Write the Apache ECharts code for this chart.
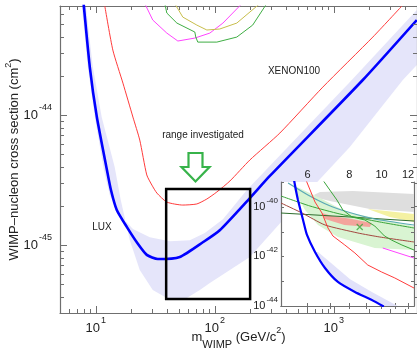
<!DOCTYPE html>
<html>
<head>
<meta charset="utf-8">
<script src="https://cdn.jsdelivr.net/npm/echarts@6/dist/echarts.min.js"></script>
<style>html,body{margin:0;padding:0;background:#fff}#c{width:417px;height:349px}</style>
</head>
<body>
<div id="c"></div>
<script>
// ---------- main plot data (mass in GeV/c^2, cross section in cm^2) ----------
const luxMass  = [7.76, 7.93, 8.90, 10.2, 12.4, 13.4, 15.0, 18.2, 22.1, 26.8, 33.2, 50.8, 79.3, 110, 197, 290, 1752, 4983];
const luxSigma = [8.5e-44, 6.9e-44, 2.34e-44, 9.65e-45, 3.78e-45, 2.65e-45, 1.86e-45, 1.38e-45, 1.05e-45, 8.4e-46, 7.8e-46, 8.1e-46, 1.05e-45, 1.30e-45, 2.30e-45, 3.40e-45, 1.86e-44, 5.38e-44];

const bandUpperMass  = [7.63, 8.57, 9.81, 11.7, 13.1, 15.9, 20.5, 28.4, 41.9, 61.6, 82.4, 117, 186, 1417, 4983];
const bandUpperSigma = [6.89e-44, 2.34e-44, 9.65e-45, 3.78e-45, 2.43e-45, 1.70e-45, 1.33e-45, 1.15e-45, 1.07e-45, 1.09e-45, 1.24e-45, 1.58e-45, 2.65e-45, 1.86e-44, 6.42e-44];
const bandLowerMass  = [8.24, 9.44, 11.2, 14.4, 16.2, 19.3, 23.4, 30.1, 39.5, 58.2, 74.8, 90.8, 197, 628, 1363, 3800, 4983];
const bandLowerSigma = [6.89e-44, 2.34e-44, 9.65e-45, 3.98e-45, 2.22e-45, 1.09e-45, 6.42e-46, 4.51e-46, 3.91e-46, 3.91e-46, 4.51e-46, 5.10e-46, 8.09e-46, 2.65e-45, 5.67e-45, 1.86e-44, 2.43e-44];

const xenonMass  = [11.9, 13.9, 16.9, 20.5, 23.4, 26.8, 29.6, 32.6, 39.5, 53.8, 70.6, 85.7, 104, 134, 197, 352, 808, 2127, 3727];
const xenonSigma = [6.89e-44, 3.16e-44, 1.76e-44, 9.65e-45, 6.42e-45, 3.46e-45, 2.89e-45, 2.51e-45, 2.14e-45, 2.03e-45, 2.07e-45, 2.26e-45, 2.56e-45, 3.11e-45, 4.51e-45, 7.27e-45, 1.64e-44, 3.98e-44, 6.89e-44];

const magMass  = [25.8, 30.1, 39.5, 48.9, 67.9, 90.8, 117, 169];
const magSigma = [7.2e-44, 5.38e-44, 4.27e-44, 3.71e-44, 3.91e-44, 4.27e-44, 5.10e-44, 7.2e-44];
const oliveMass  = [46.1, 53.8, 70.6, 85.7, 110, 153, 239];
const oliveSigma = [7.2e-44, 5.67e-44, 4.92e-44, 4.51e-44, 4.59e-44, 5.1e-44, 7.2e-44];
const greenMass  = [38, 39.5, 48, 67.9, 69.2, 71.9, 104, 153, 208, 273];
const greenSigma = [7.2e-44, 6.09e-44, 5.1e-44, 4.35e-44, 3.98e-44, 3.64e-44, 3.64e-44, 3.98e-44, 4.92e-44, 7.2e-44];

const rangeMass  = [39, 198];
const rangeSigma = [3.85e-46, 2.7e-45];

const mainXTicks = [10, 100, 1000];
const mainYTicks = [1e-45, 1e-44];

// ---------- inset data ----------
const inLuxMass  = [5.47, 5.54, 5.62, 5.82, 5.98, 6.32, 6.77, 7.40, 8.32, 9.35, 10.15];
const inLuxSigma = [1.2e-39, 4.75e-40, 1.88e-40, 2.94e-41, 7.3e-42, 1.50e-42, 3.40e-43, 9.3e-44, 3.67e-44, 1.75e-44, 9.5e-45];
const inBandMass  = [6.32, 6.77, 7.40, 8.32, 9.35, 10.15, 11.2, 9.35, 8.03, 7.0, 6.45];
const inBandSigma = [1.50e-42, 3.40e-43, 9.3e-44, 3.67e-44, 1.75e-44, 9.5e-45, 9.8e-45, 3.67e-44, 1.23e-43, 5.94e-43, 1.50e-42];
const inRedMass  = [5.94, 6.32, 6.63, 6.91, 7.15, 7.76, 8.32, 9.09, 10.0, 10.95, 12.5];
const inRedSigma = [1.2e-39, 1.56e-40, 5.62e-41, 1.40e-41, 6.65e-42, 2.88e-42, 1.37e-42, 4.5e-43, 2.35e-43, 1.35e-43, 5.3e-44];
const inGreenAMass  = [6.67, 7.0, 7.35, 7.66, 8.15, 8.91, 9.54, 10.2, 10.7, 11.5, 12.5];
const inGreenASigma = [1.2e-39, 4.75e-40, 1.88e-40, 7.43e-41, 3.88e-41, 2.94e-41, 1.68e-41, 6.65e-42, 4.58e-42, 2.88e-42, 1.81e-42];
const inTealMass  = [5.25, 6.02, 6.91, 7.93, 9.54, 12.5];
const inTealSigma = [9.1e-40, 2.99e-40, 1.18e-40, 6.17e-41, 3.22e-41, 1.85e-41];
const inGreenBMass  = [5.0, 6.1, 7.5, 9.88, 12.5];
const inGreenBSigma = [2.72e-40, 1.08e-40, 5.13e-41, 2.44e-41, 1.40e-41];
const inDarkGreenMass  = [5.0, 8.04, 12.5];
const inDarkGreenSigma = [5.62e-41, 3.88e-41, 2.67e-41];
const inBrownMass  = [5.0, 5.78, 6.77, 8.49, 9.88, 12.5];
const inBrownSigma = [1.42e-40, 5.62e-41, 1.85e-41, 8.8e-42, 6.05e-42, 3.81e-42];
const inMagMass  = [10.08, 12.5];
const inMagSigma = [2.18e-42, 8.6e-43];
const inGreenRegMass  = [5.43, 6.54, 7.85, 12.5, 12.5, 9.54, 7.40, 6.45, 5.90, 5.51];
const inGreenRegSigma = [7.57e-40, 2.26e-40, 6.17e-41, 1.68e-41, 1.81e-42, 2.18e-42, 6.05e-42, 1.85e-41, 7.43e-41, 3.95e-40];
const inGreyMass  = [6.27, 6.54, 8.2, 12.5, 12.5, 9.22, 7.0, 6.45];
const inGreySigma = [2.99e-40, 3.95e-40, 4.34e-40, 3.28e-40, 6.17e-41, 8.15e-41, 1.71e-40, 2.26e-40];
const inYellowMass  = [9.09, 12.5, 12.5, 10.58];
const inYellowSigma = [8.15e-41, 5.13e-41, 2.44e-41, 3.88e-41];
const inPinkMass  = [6.63, 7.1, 8.15, 9.35, 9.22, 7.74, 6.77];
const inPinkSigma = [5.62e-41, 4.26e-41, 3.22e-41, 2.22e-41, 1.53e-41, 1.85e-41, 3.22e-41];
const inCrossMass  = [8.6];
const inCrossSigma = [1.53e-41];

const inXTicks = [6, 7, 8, 9, 10, 11, 12];
const inXLabels = [6, 8, 10, 12];
const inYTicks = [1e-44, 1e-43, 1e-42, 1e-41, 1e-40, 1e-39];
const inYLabels = [1e-44, 1e-42, 1e-40];

// ---------- helpers ----------
const FONT = "'Liberation Sans', Arial, sans-serif";
const AX = '#6f6f6f';
function minorTicks(min, max, n0, n1) {
  const out = [];
  for (let n = n0; n <= n1; n++) for (let k = 2; k <= 9; k++) {
    const v = k * Math.pow(10, n);
    if (v > min * 1.001 && v < max * 0.999) out.push(v);
  }
  return out;
}
const mainXMinor = minorTicks(5, 5000, 0, 3);
const mainYMinor = minorTicks(3e-46, 6.9e-44, -46, -44);
function powLabel(v) { return '{b|10}{s|' + Math.round(Math.log10(v)) + '}'; }
const mainRich = {
  b: { fontSize: 13, fontFamily: FONT, color: '#222', padding: [6, 0, 6, 0] },
  s: { fontSize: 9, fontFamily: FONT, color: '#222', verticalAlign: 'top', padding: [0, 0, 0, 1] }
};
// zrender-style rich (for custom series text elements)
const mainRichZ = {
  b: { fontSize: 13, fontFamily: FONT, fill: '#222', padding: [6, 0, 6, 0] },
  s: { fontSize: 9, fontFamily: FONT, fill: '#222', verticalAlign: 'top', padding: [0, 0, 0, 1] }
};
const inRichZ = {
  b: { fontSize: 11, fontFamily: FONT, fill: '#222', padding: [5, 0, 5, 0] },
  s: { fontSize: 8, fontFamily: FONT, fill: '#222', verticalAlign: 'top', padding: [0, 0, 0, 1] }
};
const pts = (xs, ys) => xs.map((x, i) => [x, ys[i]]);

function line(xs, ys, color, width, inset, smooth) {
  return { type: 'line', xAxisIndex: inset ? 4 : 0, yAxisIndex: inset ? 4 : 0,
    data: pts(xs, ys), showSymbol: false, symbol: 'none', smooth: smooth || false,
    lineStyle: { color, width }, itemStyle: { color }, clip: true, silent: true,
    animation: false, z: inset ? 14 : 3 };
}
function poly(xs, ys, fill, inset, z) {
  return { type: 'custom', xAxisIndex: inset ? 4 : 0, yAxisIndex: inset ? 4 : 0,
    clip: true, silent: true, animation: false, z: z,
    data: [[xs[0], ys[0]]],
    renderItem: (p, api) => ({ type: 'polygon',
      shape: { points: xs.map((x, i) => api.coord([x, ys[i]])) },
      style: { fill: fill, stroke: null } }) };
}
// y-axis ticks and labels drawn through the y scale (log axis labels of tiny values need this)
function yTicks(inset, xRef, majors, minors, labels, majLen, minLen, margin, rich, z) {
  return { type: 'custom', xAxisIndex: inset ? 4 : 0, yAxisIndex: inset ? 4 : 0,
    clip: false, silent: true, animation: false, z: z,
    data: [[xRef, majors[0]]],
    renderItem: (p, api) => {
      const cs = p.coordSys;
      const L = cs.x, R = cs.x + cs.width;
      const ch = [];
      const tick = (v, len) => {
        const y = Math.round(api.coord([xRef, v])[1]) + 0.5;
        ch.push({ type: 'line', shape: { x1: L, y1: y, x2: L + len, y2: y }, style: { stroke: AX, lineWidth: 1 } });
        ch.push({ type: 'line', shape: { x1: R, y1: y, x2: R - len, y2: y }, style: { stroke: AX, lineWidth: 1 } });
      };
      majors.forEach(v => tick(v, majLen));
      minors.forEach(v => tick(v, minLen));
      labels.forEach(v => {
        const y = api.coord([xRef, v])[1];
        ch.push({ type: 'text', x: L - margin, y: y,
          style: { text: powLabel(v), rich: rich, align: 'right', verticalAlign: 'middle' } });
      });
      return { type: 'group', children: ch };
    } };
}
function xAx(grid, pos, min, max, ticks, len, showLine, extra) {
  return Object.assign({ type: 'log', logBase: 10, gridIndex: grid, position: pos, min, max,
    axisLine: { show: showLine, lineStyle: { color: AX, width: 1.2 } },
    axisTick: ticks ? { show: true, inside: true, length: len, customValues: ticks, lineStyle: { color: AX, width: 1 } } : { show: false },
    axisLabel: { show: false }, splitLine: { show: false }, minorTick: { show: false },
    z: grid ? 12 : 2 }, extra || {});
}

const option = {
  animation: false,
  backgroundColor: '#fff',
  grid: [
    { left: 60, right: 0, top: 6, bottom: 36, show: false, containLabel: false, outerBoundsMode: 'none' },
    { left: 281, top: 182, width: 133, height: 124, show: true, backgroundColor: '#fff', borderWidth: 0, z: 10, containLabel: false, outerBoundsMode: 'none' }
  ],
  xAxis: [
    xAx(0, 'bottom', 5, 5000, mainXTicks, 7, true, {
      axisLabel: { show: true, customValues: mainXTicks, formatter: powLabel, rich: mainRich, margin: 3 },
      name: '{a|m}{sub|WIMP}{a| (GeV/c}{p|2}{a|)}', nameLocation: 'middle', nameGap: 13, nameMoveOverlap: false,
      nameTextStyle: { rich: {
        a: { fontSize: 13, fontFamily: FONT, color: '#222', padding: [5, 0, 6, 0] },
        sub: { fontSize: 11, fontFamily: FONT, color: '#222', verticalAlign: 'bottom' },
        p: { fontSize: 9, fontFamily: FONT, color: '#222', verticalAlign: 'top' } } }
    }),
    xAx(0, 'bottom', 5, 5000, mainXMinor, 4, false),
    xAx(0, 'top', 5, 5000, mainXTicks, 7, true),
    xAx(0, 'top', 5, 5000, mainXMinor, 4, false),
    xAx(1, 'bottom', 5, 12.5, inXTicks, 3, true),
    xAx(1, 'top', 5, 12.5, inXTicks, 3, true, {
      axisLabel: { show: true, customValues: inXLabels, formatter: v => String(Math.round(v)),
        fontSize: 11, fontFamily: FONT, color: '#222', margin: 2 } })
  ],
  yAxis: [
    xAx(0, 'left', 3e-46, 6.9e-44, null, 0, true, {
      name: '{a|WIMP\u2013nucleon cross section (cm}{p|2}{a|)}', nameLocation: 'middle', nameGap: 35, nameRotate: 90,
      nameMoveOverlap: false,
      nameTextStyle: { rich: {
        a: { fontSize: 13, fontFamily: FONT, color: '#222', padding: [4, 0, 4, 0] },
        p: { fontSize: 9, fontFamily: FONT, color: '#222', verticalAlign: 'top' } } }
    }),
    xAx(0, 'right', 3e-46, 6.9e-44, null, 0, true),
    xAx(1, 'left', 1e-44, 1e-39, null, 0, true),
    xAx(1, 'right', 1e-44, 1e-39, null, 0, true),
    xAx(1, 'left', 1e-44, 1e-39, null, 0, false)
  ],
  series: [
    // main plot
    poly(bandUpperMass.concat(bandLowerMass.slice().reverse()),
         bandUpperSigma.concat(bandLowerSigma.slice().reverse()), '#e5e5fa', false, 1),
    line(magMass, magSigma, '#ff44ff', 1, false),
    line(oliveMass, oliveSigma, '#c8be4c', 1, false),
    line(greenMass, greenSigma, '#3fae44', 1, false),
    line(xenonMass, xenonSigma, '#ff3b3b', 1, false, 0.2),
    line(luxMass, luxSigma, '#0000ff', 2.6, false, 0.2),
    { type: 'custom', xAxisIndex: 0, yAxisIndex: 0, silent: true, animation: false, z: 5,
      data: [[rangeMass[0], rangeSigma[0]]],
      renderItem: (p, api) => {
        const a = api.coord([rangeMass[0], rangeSigma[1]]);
        const b = api.coord([rangeMass[1], rangeSigma[0]]);
        return { type: 'rect', shape: { x: a[0], y: a[1], width: b[0] - a[0], height: b[1] - a[1] },
          style: { fill: null, stroke: '#000', lineWidth: 2.5 } };
      } },
    yTicks(false, 10, mainYTicks, mainYMinor, mainYTicks, 7, 4, 8, mainRichZ, 6),
    // inset
    poly(inGreyMass, inGreySigma, '#dedede', true, 13),
    poly(inYellowMass, inYellowSigma, '#f4f1a2', true, 13),
    poly(inGreenRegMass, inGreenRegSigma, '#d9f4d2', true, 13),
    poly(inPinkMass, inPinkSigma, '#f3a49c', true, 13),
    poly(inBandMass, inBandSigma, '#e2e2fa', true, 13),
    line(inDarkGreenMass, inDarkGreenSigma, '#2e6e2e', 1, true),
    line(inBrownMass, inBrownSigma, '#a4473f', 1, true, 0.2),
    line(inGreenBMass, inGreenBSigma, '#3aa53a', 1, true, 0.2),
    line(inTealMass, inTealSigma, '#5aa9b5', 1.2, true, 0.2),
    line(inGreenAMass, inGreenASigma, '#3aa53a', 1, true),
    line(inMagMass, inMagSigma, '#ff44ff', 1, true),
    line(inRedMass, inRedSigma, '#ff3b3b', 1, true),
    line(inLuxMass, inLuxSigma, '#0000ff', 2.2, true, 0.2),
    { type: 'scatter', xAxisIndex: 4, yAxisIndex: 4, silent: true, animation: false, z: 15,
      data: pts(inCrossMass, inCrossSigma), symbol: 'path://M0,0L10,10M10,0L0,10', symbolSize: 6,
      itemStyle: { color: 'transparent', borderColor: '#3aa53a', borderWidth: 1.2 } },
    yTicks(true, 6, inYTicks, [], inYLabels, 3, 0, 3, inRichZ, 16)
  ],
  graphic: [
    { type: 'text', x: 294, y: 71, z: 30, style: { text: 'XENON100', font: '10px ' + FONT, fill: '#222', align: 'center', verticalAlign: 'middle' } },
    { type: 'text', x: 203, y: 135, z: 30, style: { text: 'range investigated', font: '10px ' + FONT, fill: '#222', align: 'center', verticalAlign: 'middle' } },
    { type: 'text', x: 102, y: 227, z: 30, style: { text: 'LUX', font: '10px ' + FONT, fill: '#222', align: 'center', verticalAlign: 'middle' } },
    { type: 'polygon', z: 30, shape: { points: [[188.5,153],[202.5,153],[202.5,167],[209.5,167],[195.5,181.5],[181.5,167],[188.5,167]] },
      style: { fill: null, stroke: '#37b34a', lineWidth: 2.2 } }
  ]
};
const chart = echarts.init(document.getElementById('c'), null, { renderer: 'canvas' });
chart.setOption(option);
</script>
</body>
</html>
